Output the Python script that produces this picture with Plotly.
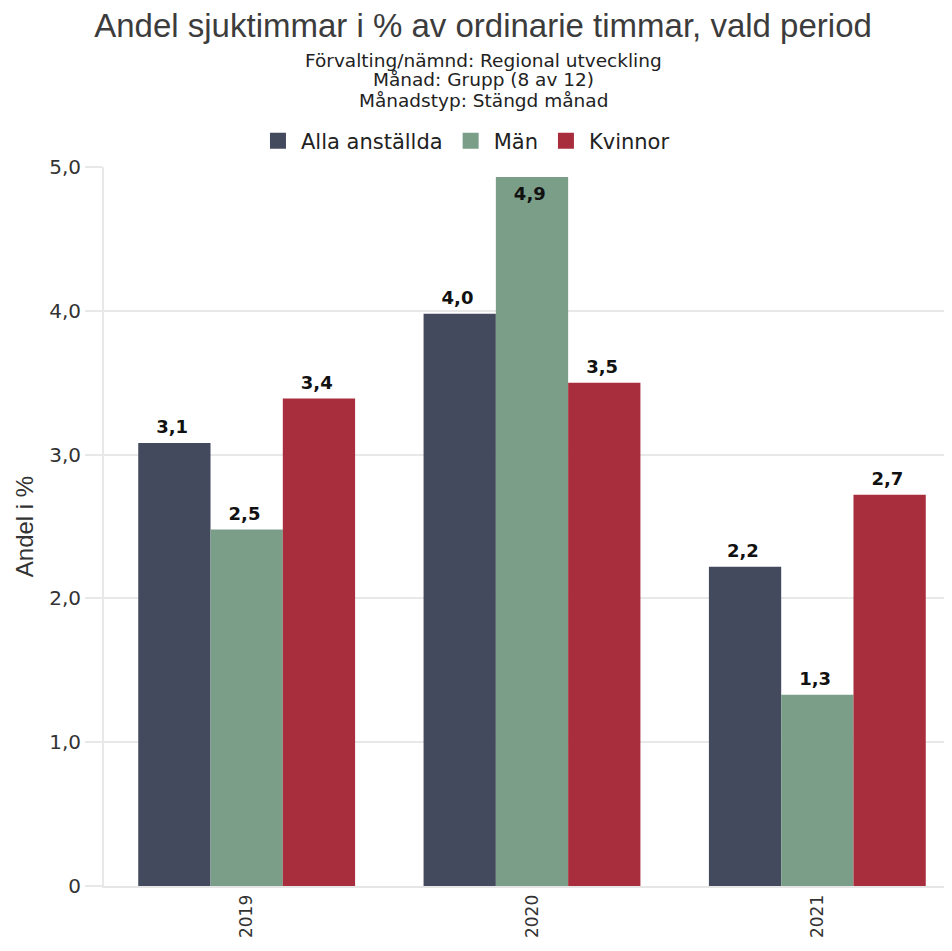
import plotly.graph_objects as go

years = ["2019", "2020", "2021"]
series_names = ["Alla anställda", "Män", "Kvinnor"]
alla = [3.08, 3.98, 2.22]
man = [2.48, 4.93, 1.33]
kvinnor = [3.39, 3.50, 2.72]
colors = ["#444a5e", "#7b9e89", "#a82e3e"]
ytick_vals = [0, 1, 2, 3, 4, 5]
ytick_text = ["0", "1,0", "2,0", "3,0", "4,0", "5,0"]
title_text = "Andel sjuktimmar i % av ordinarie timmar, vald period"
subtitle_lines = ["Förvalting/nämnd: Regional utveckling", "Månad: Grupp (8 av 12)", "Månadstyp: Stängd månad"]
ytitle = "Andel i %"

label_font = dict(family="DejaVu Sans", size=18, color="#111111", weight="bold")

fig = go.Figure()
for name, vals, col in zip(series_names, [alla, man, kvinnor], colors):
    inside = [v > 4.6 for v in vals]
    pos = ["inside" if f else "outside" for f in inside]
    tmpl = ["%{y:.1f}<sup>&nbsp;</sup>" if f else "%{y:.1f}<sub>&nbsp;</sub>" for f in inside]
    fig.add_trace(go.Bar(
        x=years, y=vals, name=name, showlegend=False,
        marker=dict(color=col, line=dict(width=0)),
        texttemplate=tmpl, textposition=pos,
        insidetextanchor="end",
        textfont=label_font, insidetextfont=label_font, outsidetextfont=label_font,
        cliponaxis=False,
    ))
# legend entries (square swatches)
for name, col in zip(series_names, colors):
    fig.add_trace(go.Scatter(
        x=[None], y=[None], mode="markers", name=name,
        marker=dict(symbol="square", size=24, color=col),
    ))

fig.update_layout(
    width=952, height=951,
    separators=", ",
    paper_bgcolor="white", plot_bgcolor="white",
    barmode="group", bargap=0.24, bargroupgap=0,
    margin=dict(l=96, r=0, t=159, b=73),
    title=dict(text=title_text, x=0.499, xanchor="center", y=1 - 17 / 951, yanchor="middle",
               font=dict(family="Liberation Sans", size=33, color="#3c3c3c")),
    legend=dict(orientation="h", x=0.4217, xanchor="center", y=1.036, yanchor="middle",
                font=dict(family="DejaVu Sans", size=21, color="#222222"),
                itemwidth=36, traceorder="normal", itemsizing="trace"),
    showlegend=True,
)

sub_y = [52, 72, 93]
for line, yy in zip(subtitle_lines, sub_y):
    fig.add_annotation(text=line, xref="paper", yref="paper", x=0.443,
                       y=(878 - yy) / 719, xanchor="center", yanchor="middle",
                       showarrow=False,
                       font=dict(family="DejaVu Sans", size=18.5, color="#222222"))

fig.update_xaxes(
    tickangle=-90, showgrid=False,
    showline=True, linecolor="#e6e6e6", linewidth=2,
    tickfont=dict(family="DejaVu Sans", size=17, color="#333333"),
    ticks="", fixedrange=True,
)
fig.update_yaxes(
    range=[0, 5], tickvals=ytick_vals, ticktext=ytick_text,
    showgrid=True, gridcolor="#e8e8e8", gridwidth=2,
    showline=True, linecolor="#e8e8e8", linewidth=2,
    ticks="outside", ticklen=17, tickcolor="#e8e8e8", tickwidth=2,
    tickfont=dict(family="DejaVu Sans", size=20, color="#333333"),
    title=dict(text=ytitle, font=dict(family="Liberation Sans", size=24, color="#333333"), standoff=9),
    zeroline=False,
)

fig.write_html("out.html")
